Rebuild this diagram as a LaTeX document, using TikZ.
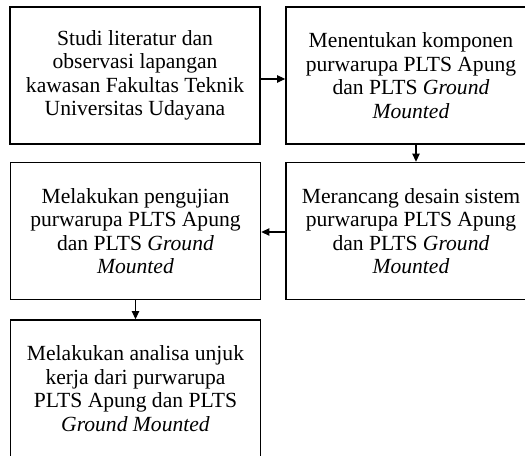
\documentclass[tikz,border=0pt]{standalone}
\usepackage{fontspec}
\setmainfont{Liberation Serif}
\usetikzlibrary{arrows.meta}

\begin{document}
\begin{tikzpicture}[x=0.75pt, y=-0.75pt,
    stepbox/.style={draw, line width=1.2pt, align=center, minimum width=187.5pt,
        minimum height=102.75pt, inner sep=0pt, font=\fontsize{16.2}{17.6}\selectfont},
    flow/.style={line width=0.8pt, -{Triangle[length=6pt,width=5.5pt]}}]
    % Page frame
    \clip (0,0) rectangle (525,455);
    \fill[white] (0,0) rectangle (525,455);

    % Boxes
    \node[stepbox] (studi) at (135,75.5) {Studi literatur dan\\observasi lapangan\\kawasan Fakultas Teknik\\Universitas Udayana};
    \node[stepbox] (komponen) at (411,75.5) {Menentukan komponen\\purwarupa PLTS Apung\\dan PLTS \textit{Ground}\\\textit{Mounted}};
    \node[stepbox] (desain) at (411,231) {Merancang desain sistem\\purwarupa PLTS Apung\\dan PLTS \textit{Ground}\\\textit{Mounted}};
    \node[stepbox] (uji) at (135.5,231) {Melakukan pengujian\\purwarupa PLTS Apung\\dan PLTS \textit{Ground}\\\textit{Mounted}};
    \node[stepbox] (analisa) at (135.5,388.5) {Melakukan analisa unjuk\\kerja dari purwarupa\\PLTS Apung dan PLTS\\\textit{Ground Mounted}};

    % Arrows
    \draw[flow] ([yshift=-2.6pt]studi.east) -- ([yshift=-2.6pt]komponen.west);
    \draw[flow] ([xshift=3.75pt]komponen.south) -- ([xshift=3.75pt]desain.north);
    \draw[flow] ([yshift=-0.75pt]desain.west) -- ([yshift=-0.75pt]uji.east);
    \draw[flow] (uji.south) -- (analisa.north);
\end{tikzpicture}
\end{document}
